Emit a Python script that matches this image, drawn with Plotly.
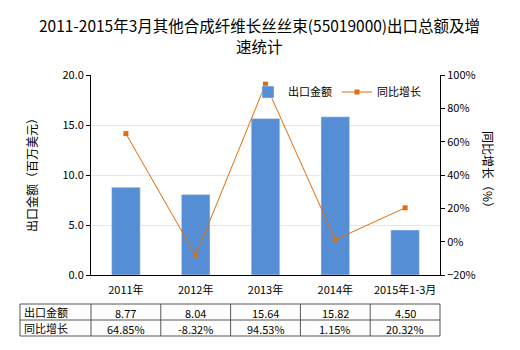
import plotly.graph_objects as go

categories = ["2011年", "2012年", "2013年", "2014年", "2015年1-3月"]
export_values = [8.77, 8.04, 15.64, 15.82, 4.50]
growth_values = [64.85, -8.32, 94.53, 1.15, 20.32]
row_labels = ["出口金额", "同比增长"]

FONT = "Noto Sans CJK SC"
W, H = 520, 350
L, R, T, B = 91, 80, 75, 75
PW, PH = W - L - R, H - T - B

def px(x):
    return (x - L) / PW

def py(y):
    return (H - B - y) / PH

fig = go.Figure()
fig.add_trace(go.Bar(
    x=categories, y=export_values, name="出口金额",
    marker=dict(color="#558ED5"), width=0.41, yaxis="y",
))
fig.add_trace(go.Scatter(
    x=categories, y=growth_values, name="同比增长", yaxis="y2",
    mode="lines+markers",
    line=dict(color="#E46C0A", width=1),
    marker=dict(symbol="square", size=5, color="#E46C0A"),
))

shapes = []
col_edges = [20] + [L + i * PW / 5 for i in range(6)]
row_edges = [304, 320, 336]
for y in row_edges:
    shapes.append(dict(type="line", xref="paper", yref="paper",
                       x0=px(col_edges[0]), x1=px(col_edges[-1]), y0=py(y), y1=py(y),
                       line=dict(color="#555555", width=1)))
for x in col_edges:
    shapes.append(dict(type="line", xref="paper", yref="paper",
                       x0=px(x), x1=px(x), y0=py(row_edges[0]), y1=py(row_edges[-1]),
                       line=dict(color="#555555", width=1)))

annotations = []
rows = [[f"{v:.2f}" for v in export_values], [f"{v:.2f}%" for v in growth_values]]
for r, (label, vals) in enumerate(zip(row_labels, rows)):
    yc = (row_edges[r] + row_edges[r + 1]) / 2
    annotations.append(dict(xref="paper", yref="paper", x=px(22), y=py(yc), text=label,
                            showarrow=False, xanchor="left", yanchor="middle",
                            font=dict(family=FONT, size=11, color="#000000")))
    for i, v in enumerate(vals):
        xc = (col_edges[i + 1] + col_edges[i + 2]) / 2
        annotations.append(dict(xref="paper", yref="paper", x=px(xc), y=py(yc + 1), text=v,
                                showarrow=False, xanchor="center", yanchor="middle",
                                font=dict(family=FONT, size=11, color="#000000")))

annotations.append(dict(xref="paper", yref="paper", x=px(259), y=py(25),
                        text="2011-2015年3月其他合成纤维长丝丝束(55019000)出口总额及增",
                        showarrow=False, xanchor="center", yanchor="middle",
                        font=dict(family=FONT, size=15.5, color="#000000")))
annotations.append(dict(xref="paper", yref="paper", x=px(259), y=py(46),
                        text="速统计", showarrow=False, xanchor="center", yanchor="middle",
                        font=dict(family=FONT, size=15.5, color="#000000")))
annotations.append(dict(xref="paper", yref="paper", x=px(31), y=py(172),
                        text="出口金额（百万美元）", textangle=-90, showarrow=False,
                        xanchor="center", yanchor="middle",
                        font=dict(family=FONT, size=12, color="#000000")))
annotations.append(dict(xref="paper", yref="paper", x=px(489), y=py(172),
                        text="同比增长（%）", textangle=90, showarrow=False,
                        xanchor="center", yanchor="middle",
                        font=dict(family=FONT, size=12, color="#000000")))

fig.update_layout(
    width=W, height=H,
    margin=dict(l=L, r=R, t=T, b=B),
    paper_bgcolor="white", plot_bgcolor="white",
    font=dict(family=FONT, size=11, color="#000000"),
    showlegend=True,
    legend=dict(orientation="h", x=px(248), y=py(92), xanchor="left", yanchor="middle",
                bgcolor="rgba(0,0,0,0)", font=dict(family=FONT, size=11),
                itemwidth=30, tracegroupgap=0),
    xaxis=dict(showline=True, linecolor="#000000", linewidth=1,
               ticks="", ticklabelstandoff=5, tickfont=dict(family=FONT, size=11), showgrid=False),
    yaxis=dict(range=[0, 20], dtick=5, tickformat=".1f", showline=True, linecolor="#000000",
               ticks="outside", ticklen=4, tickcolor="#000000",
               showgrid=True, gridcolor="#E6E6E6", zeroline=False),
    yaxis2=dict(range=[-20, 100], dtick=20, ticksuffix="%", overlaying="y", side="right",
                showline=True, linecolor="#000000", ticks="outside", ticklen=4, tickcolor="#000000",
                showgrid=False, zeroline=False),
    shapes=shapes, annotations=annotations,
    bargap=0.59,
)

fig.write_html("out.html")
